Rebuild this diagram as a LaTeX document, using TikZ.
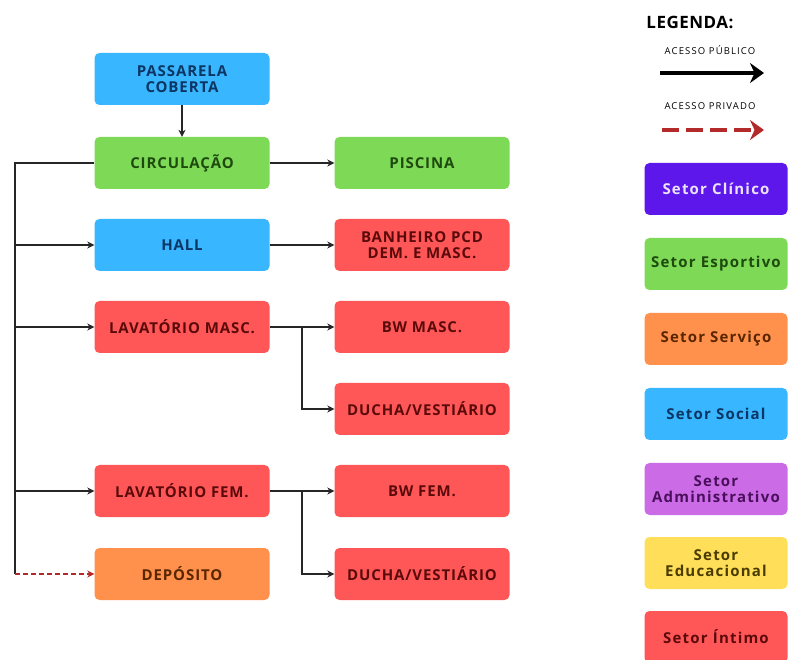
\documentclass[tikz,border=0pt]{standalone}
\usepackage{fontspec}
\setmainfont{Open Sans}
\usetikzlibrary{arrows.meta}
\definecolor{socialblue}{HTML}{38B6FF}
\definecolor{sportgreen}{HTML}{7ED957}
\definecolor{intimered}{HTML}{FF5757}
\definecolor{serviceorange}{HTML}{FF914D}
\definecolor{clinicviolet}{HTML}{5E17EB}
\definecolor{adminlilac}{HTML}{CB6CE6}
\definecolor{eduyellow}{HTML}{FFDE59}
\definecolor{socialtext}{HTML}{0B3563}
\definecolor{sporttext}{HTML}{1E4A0E}
\definecolor{intimetext}{HTML}{5A0A0A}
\definecolor{servicetext}{HTML}{5A2600}
\definecolor{admintext}{HTML}{4A0F5C}
\definecolor{edutext}{HTML}{4A3B00}
\definecolor{privred}{HTML}{B22A2A}
\tikzstyle{sector-box} = [rectangle, rounded corners=5pt, minimum width=175pt,
    minimum height=52pt, align=center, inner sep=2pt,
    font=\bfseries\fontsize{15}{16}\selectfont\addfontfeatures{LetterSpace=6}]
\tikzstyle{legend-box} = [rectangle, rounded corners=5pt, minimum width=143pt,
    minimum height=52pt, align=center, inner sep=2pt,
    font=\bfseries\fontsize{15}{16}\selectfont\addfontfeatures{LetterSpace=8}]
\tikzstyle{pub} = [draw=black!85, line width=2pt, -{Stealth[length=7pt,width=7pt]}]
\tikzstyle{trunk-line} = [draw=black!85, line width=2pt]
\tikzstyle{priv} = [draw=privred, line width=1.3pt, dash pattern=on 5pt off 3pt, -{Stealth[length=7pt,width=7pt]}]

\begin{document}
\begin{tikzpicture}[x=1pt,y=-1pt]
\useasboundingbox (0,0) rectangle (788,660);
% fluxograma
\node[sector-box, fill=socialblue, text=socialtext] (pass) at (182,79) {PASSARELA\\COBERTA};
\node[sector-box, fill=sportgreen, text=sporttext] (circ) at (182,163) {CIRCULAÇÃO};
\node[sector-box, fill=socialblue, text=socialtext] (hall) at (182,245) {HALL};
\node[sector-box, fill=intimered, text=intimetext] (lavm) at (182,327) {LAVATÓRIO MASC.};
\node[sector-box, fill=intimered, text=intimetext] (lavf) at (182,491) {LAVATÓRIO FEM.};
\node[sector-box, fill=serviceorange, text=servicetext] (dep) at (182,574) {DEPÓSITO};
\node[sector-box, fill=sportgreen, text=sporttext] (pisc) at (422,163) {PISCINA};
\node[sector-box, fill=intimered, text=intimetext] (banh) at (422,245) {BANHEIRO PCD\\DEM. E MASC.};
\node[sector-box, fill=intimered, text=intimetext] (bwm) at (422,327) {BW MASC.};
\node[sector-box, fill=intimered, text=intimetext] (duchm) at (422,409) {DUCHA/VESTIÁRIO};
\node[sector-box, fill=intimered, text=intimetext] (bwf) at (422,491) {BW FEM.};
\node[sector-box, fill=intimered, text=intimetext] (duchf) at (422,574) {DUCHA/VESTIÁRIO};
\coordinate (trunk) at (15,163);
\coordinate (trunkend) at (15,574);
\coordinate (forkm) at (302,327);
\coordinate (forkf) at (302,491);
\draw[pub] (pass) -- (circ);
\draw[pub] (circ) -- (pisc);
\draw[pub] (hall) -- (banh);
\draw[pub] (lavm) -- (bwm);
\draw[pub] (forkm) |- (duchm);
\draw[pub] (lavf) -- (bwf);
\draw[pub] (forkf) |- (duchf);
\draw[trunk-line] (circ) -- (trunk) -- (trunkend);
\draw[pub] (trunk |- hall) -- (hall);
\draw[pub] (trunk |- lavm) -- (lavm);
\draw[pub] (trunk |- lavf) -- (lavf);
\draw[priv] (trunkend) -- (dep);
% legenda
\node[font=\bfseries\fontsize{17}{19}\selectfont\addfontfeatures{LetterSpace=3}] (leg) at (690,22) {LEGENDA:};
\node[font=\fontsize{9.5}{11}\selectfont\addfontfeatures{LetterSpace=12}] (pubtxt) at (710,50) {ACESSO PÚBLICO};
\node[font=\fontsize{9.5}{11}\selectfont\addfontfeatures{LetterSpace=12}] (privtxt) at (710,106) {ACESSO PRIVADO};
\coordinate (pubA) at (660,73);
\coordinate (pubB) at (764,73);
\coordinate (privA) at (662,130);
\coordinate (privB) at (764,130);
\draw[black, line width=4.5pt, -{Stealth[length=14pt,width=20pt]}] (pubA) -- (pubB);
\draw[privred, line width=4.5pt, dash pattern=on 17pt off 7pt, -{Stealth[length=14pt,width=20pt]}] (privA) -- (privB);
\node[legend-box, fill=clinicviolet, text=white!88!clinicviolet] (clin) at (716,189) {Setor Clínico};
\node[legend-box, fill=sportgreen, text=sporttext] (esp) at (716,264) {Setor Esportivo};
\node[legend-box, fill=serviceorange, text=servicetext] (serv) at (716,339) {Setor Serviço};
\node[legend-box, fill=socialblue, text=socialtext] (soc) at (716,414) {Setor Social};
\node[legend-box, fill=adminlilac, text=admintext] (adm) at (716,489) {Setor\\Administrativo};
\node[legend-box, fill=eduyellow, text=edutext] (edu) at (716,563) {Setor\\Educacional};
\node[legend-box, fill=intimered, text=intimetext] (int) at (716,637) {Setor Íntimo};
\end{tikzpicture}
\end{document}
